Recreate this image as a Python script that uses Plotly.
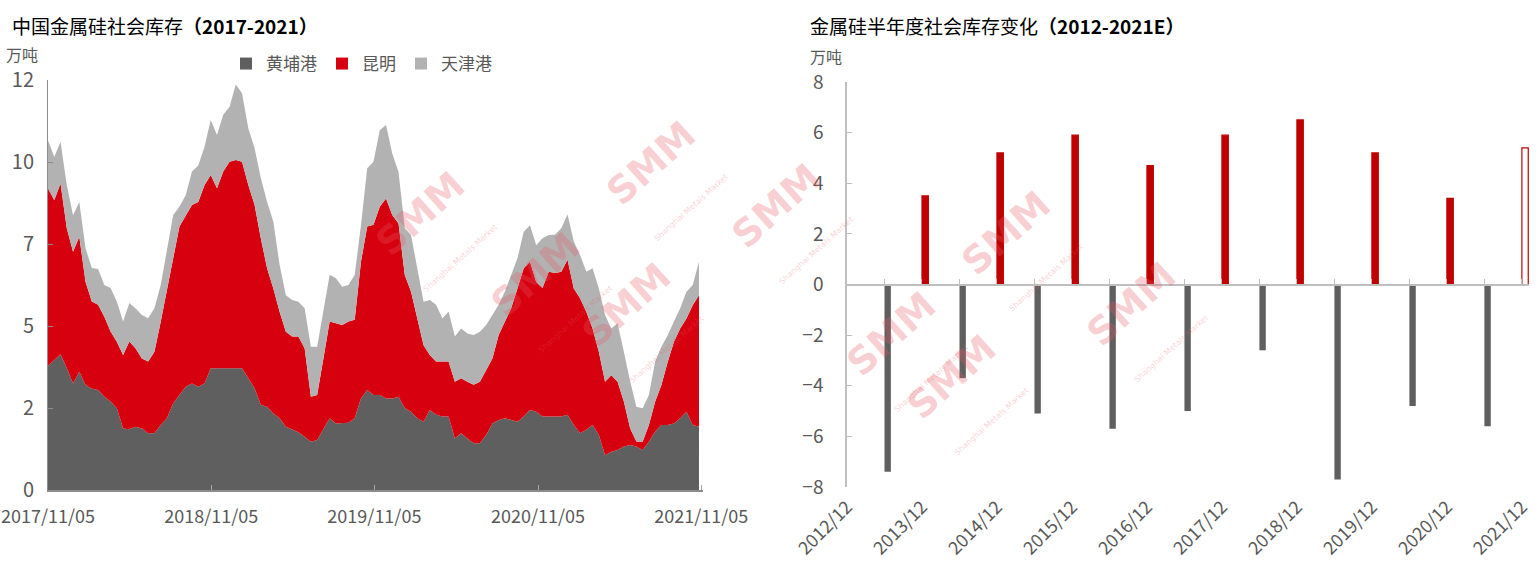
import plotly.graph_objects as go
import pandas as pd

W, H = 1539, 564
FONT = "Noto Sans CJK SC"
GREY_TXT = "#595959"

# ---------------- Left chart data (万吨), biweekly ----------------
dates = pd.date_range("2017-11-05", periods=105, freq="14D")
huangpu = [3.63,3.80,3.97,3.56,3.12,3.46,3.07,2.96,2.93,2.73,
           2.59,2.39,1.80,1.78,1.85,1.80,1.66,1.66,1.90,2.10,
           2.54,2.78,3.02,3.12,3.02,3.12,3.56,3.56,3.56,3.56,
           3.56,3.56,3.27,2.98,2.49,2.44,2.24,2.10,1.85,1.76,
           1.69,1.56,1.41,1.46,1.80,2.10,1.95,1.95,1.97,2.10,
           2.68,2.93,2.78,2.78,2.68,2.68,2.73,2.39,2.29,2.10,
           2.00,2.34,2.20,2.15,2.15,1.51,1.66,1.51,1.37,1.37,
           1.61,1.95,2.05,2.10,2.05,2.00,2.15,2.34,2.29,2.15,
           2.15,2.15,2.15,2.20,1.90,1.66,1.76,1.90,1.61,1.02,
           1.12,1.17,1.27,1.32,1.27,1.17,1.41,1.71,1.90,1.90,
           1.95,2.10,2.29,1.90,1.85]
kunming = [5.20,4.68,5.00,4.10,3.85,3.95,3.02,2.56,2.49,2.34,
           2.05,1.95,2.15,2.57,2.29,2.05,2.10,2.39,3.02,3.71,
           4.24,4.93,5.02,5.22,5.41,5.80,5.66,5.27,5.76,6.05,
           6.10,6.05,5.66,5.37,4.88,4.05,3.66,3.12,2.78,2.73,
           2.80,2.59,1.32,1.32,2.05,2.83,2.93,2.88,2.96,2.88,
           4.00,4.78,4.98,5.51,5.85,5.37,5.07,3.90,3.51,2.93,
           2.24,1.61,1.56,1.61,1.61,1.66,1.61,1.66,1.71,1.80,
           1.90,1.90,2.49,2.83,3.27,3.90,4.34,4.34,3.80,3.76,
           4.24,4.20,4.24,4.54,4.00,3.95,3.46,2.83,2.44,2.15,
           2.24,2.00,1.32,0.49,0.15,0.24,0.49,0.88,1.17,1.85,
           2.39,2.63,2.73,3.51,3.85]
tianjin = [1.41,1.27,1.22,1.27,1.07,1.02,0.98,0.98,1.05,0.93,
           1.27,1.17,0.98,1.12,1.17,1.27,1.27,1.27,1.07,1.27,
           1.27,0.59,0.59,0.98,1.07,1.12,1.61,1.56,1.66,1.61,
           2.21,2.00,1.66,1.66,1.76,1.95,1.95,1.37,1.07,1.07,
           1.02,1.17,1.46,1.41,1.46,1.37,1.32,1.12,1.07,1.32,
           1.07,1.71,1.85,2.24,2.15,1.80,1.51,1.37,1.66,1.46,
           1.27,1.61,1.66,1.27,1.46,1.32,1.46,1.41,1.46,1.46,
           1.32,1.27,0.88,0.88,0.98,0.88,1.07,1.07,1.07,1.46,
           1.07,1.12,1.27,1.32,1.37,1.27,1.17,1.76,1.85,1.95,
           1.37,1.71,1.46,1.37,1.02,0.98,0.88,1.17,1.12,0.78,
           0.59,0.59,0.78,0.59,0.98]
left_xtick_vals = ["2017-11-05", "2018-11-05", "2019-11-05", "2020-11-05", "2021-11-05"]
left_xtick_text = ["2017/11/05", "2018/11/05", "2019/11/05", "2020/11/05", "2021/11/05"]
left_ytick_vals = [0, 2.4, 4.8, 7.2, 9.6, 12]
left_ytick_text = ["0", "2", "5", "7", "10", "12"]

# ---------------- Right chart data (万吨) ----------------
periods = ["2012/12", "2013/06", "2013/12", "2014/06", "2014/12", "2015/06", "2015/12",
           "2016/06", "2016/12", "2017/06", "2017/12", "2018/06", "2018/12", "2019/06",
           "2019/12", "2020/06", "2020/12", "2021/06", "2021/12"]
h1_change = [None, -7.4, None, -3.7, None, -5.1, None, -5.7, None, -5.0,
             None, -2.6, None, -7.7, None, -4.8, None, -5.6, None]
h2_change = [None, None, 3.5, None, 5.2, None, 5.9, None, 4.7, None,
             5.9, None, 6.5, None, 5.2, None, 3.4, None, 5.4]
right_label_cats = periods[::2]

# ---------------- geometry helpers ----------------
def px_x(p): return p / W
def px_y(p): return 1 - p / H

L_dom_x = [px_x(48), px_x(703)]
L_dom_y = [px_y(490), px_y(80)]
R_dom_x = [px_x(847), px_x(1529)]
R_dom_y = [px_y(487), px_y(82)]

fig = go.Figure()

DARK = "#5f5f5f"
RED = "#d7000f"
LIGHT = "#b2b2b2"

series = [("黄埔港", huangpu, DARK), ("昆明", kunming, RED), ("天津港", tianjin, LIGHT)]
for name, vals, col in series:
    fig.add_trace(go.Scatter(
        x=dates, y=vals, name=name, mode="lines", stackgroup="one",
        line=dict(width=0, color=col), fillcolor=col, xaxis="x", yaxis="y",
        showlegend=False,
    ))
# legend entries with square markers
for name, vals, col in series:
    fig.add_trace(go.Scatter(
        x=[None], y=[None], name=name, mode="markers", xaxis="x", yaxis="y",
        marker=dict(symbol="square", size=12, color=col), showlegend=True,
    ))

# right chart bars
fig.add_trace(go.Bar(
    x=periods, y=h1_change, xaxis="x4", yaxis="y3", showlegend=False,
    marker=dict(color="#5f5f5f", line=dict(width=0)), offset=0, width=0.17,
))
red_fill = ["#c00000"] * (len(periods) - 1) + ["#ffffff"]
fig.add_trace(go.Bar(
    x=periods, y=h2_change, xaxis="x4", yaxis="y3", showlegend=False,
    marker=dict(color=red_fill, line=dict(width=1.2, color="#c00000")), offset=0, width=0.17,
))
# dummy trace to carry the label axis
fig.add_trace(go.Scatter(x=periods, y=[None] * len(periods), xaxis="x3", yaxis="y3",
                         showlegend=False, hoverinfo="skip", mode="markers"))

zero_pos = R_dom_y[0] + (R_dom_y[1] - R_dom_y[0]) * 0.5

fig.update_layout(
    width=W, height=H,
    margin=dict(l=0, r=0, t=0, b=0, pad=0, autoexpand=False),
    paper_bgcolor="white", plot_bgcolor="rgba(0,0,0,0)",
    font=dict(family=FONT, color=GREY_TXT, size=16),
    barmode="overlay",
    showlegend=True,
    legend=dict(orientation="h", x=px_x(226), y=px_y(64), xanchor="left", yanchor="middle",
                font=dict(size=17, color=GREY_TXT, family=FONT), bgcolor="rgba(0,0,0,0)",
                itemwidth=30, traceorder="normal"),
    xaxis=dict(domain=L_dom_x, anchor="y", type="date", automargin=False,
               range=["2017-11-05", "2021-11-09"],
               tickmode="array", tickvals=left_xtick_vals, ticktext=left_xtick_text,
               ticks="inside", ticklen=5, tickcolor="#a6a6a6",
               showline=True, linecolor="#8c8c8c", linewidth=2,
               showgrid=False, zeroline=False,
               tickfont=dict(size=18, color=GREY_TXT), ticklabelstandoff=9),
    yaxis=dict(domain=L_dom_y, anchor="x", range=[0, 12], automargin=False,
               tickmode="array", tickvals=left_ytick_vals, ticktext=left_ytick_text,
               ticks="inside", ticklen=5, tickcolor="#8c8c8c",
               showline=True, linecolor="#8c8c8c", linewidth=1,
               showgrid=False, zeroline=False,
               tickfont=dict(size=20, color=GREY_TXT), ticklabelstandoff=9),
    xaxis3=dict(domain=R_dom_x, anchor="y3", type="category", categoryarray=periods,
                categoryorder="array", range=[0, 18.19], automargin=False,
                tickmode="array", tickvals=right_label_cats, ticktext=right_label_cats,
                tickangle=-45, ticks="", showline=False, showgrid=False, zeroline=False,
                tickfont=dict(size=18, color=GREY_TXT), ticklabelstandoff=5),
    xaxis4=dict(domain=R_dom_x, anchor="free", position=zero_pos, overlaying="x3",
                type="category", categoryarray=periods, categoryorder="array",
                range=[0, 18.19], tickmode="array", tickvals=periods, automargin=False,
                ticks="inside", ticklen=5, tickcolor="#bfbfbf",
                showticklabels=False, showline=True, linecolor="#bfbfbf", linewidth=1.5,
                showgrid=False, zeroline=False),
    yaxis3=dict(domain=R_dom_y, anchor="x3", range=[-8, 8], dtick=2, tick0=0, automargin=False,
                ticks="inside", ticklen=5, tickcolor="#bfbfbf",
                showline=True, linecolor="#bfbfbf", linewidth=1.5,
                showgrid=False, zeroline=False,
                tickfont=dict(size=19, color=GREY_TXT), ticklabelstandoff=18),
)

ann = []
ann.append(dict(x=px_x(10), y=px_y(25), xref="paper", yref="paper", xanchor="left", yanchor="middle",
                text="中国金属硅社会库存<b>（2017-2021）</b>", showarrow=False,
                font=dict(size=19, color="#000000", family=FONT)))
ann.append(dict(x=px_x(808), y=px_y(25), xref="paper", yref="paper", xanchor="left", yanchor="middle",
                text="金属硅半年度社会库存变化<b>（2012-2021E）</b>", showarrow=False,
                font=dict(size=19, color="#000000", family=FONT)))
ann.append(dict(x=px_x(4), y=px_y(54), xref="paper", yref="paper", xanchor="left", yanchor="middle",
                text="万吨", showarrow=False, font=dict(size=16, color=GREY_TXT, family=FONT)))
ann.append(dict(x=px_x(808), y=px_y(56), xref="paper", yref="paper", xanchor="left", yanchor="middle",
                text="万吨", showarrow=False, font=dict(size=16, color=GREY_TXT, family=FONT)))

# watermarks
wm = [(665, 110), (365, 160), (790, 222), (480, 290), (1090, 180), (1215, 320),
      (905, 350), (1035, 462), (640, 390)]
for (wx, wy) in wm:
    ann.append(dict(x=px_x(wx), y=px_y(wy), xref="paper", yref="paper",
                    text="<b>SMM</b><br><span style='font-size:8px'>Shanghai Metals Market</span>",
                    showarrow=False, textangle=-42,
                    font=dict(size=38, color="rgba(232,90,100,0.28)", family="DejaVu Sans")))
fig.update_layout(annotations=ann)

fig.write_html("out.html", config={"displayModeBar": False},
               post_script="document.body.style.margin='0px';")
